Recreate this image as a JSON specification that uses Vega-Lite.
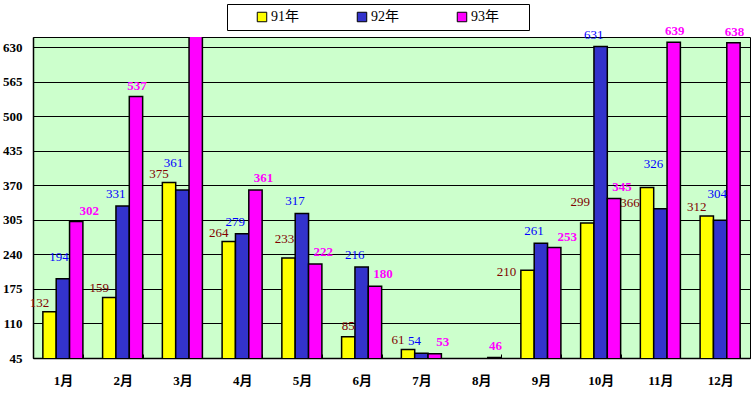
{
  "$schema": "https://vega.github.io/schema/vega-lite/v6.json",
  "width": 717,
  "height": 321,
  "autosize": {"type": "none"},
  "padding": {"left": 33, "top": 37, "right": 3, "bottom": 39},
  "background": "white",
  "config": {
    "view": {"fill": "#CCFFCC", "stroke": "black", "strokeWidth": 1},
    "font": "Liberation Serif, Noto Sans CJK SC",
    "text": {"font": "Liberation Serif", "fontSize": 13}
  },
  "data": {
    "values": [
      {"month": "1月", "series": "91年", "value": 132},
      {"month": "1月", "series": "92年", "value": 194},
      {"month": "1月", "series": "93年", "value": 302},
      {"month": "2月", "series": "91年", "value": 159},
      {"month": "2月", "series": "92年", "value": 331},
      {"month": "2月", "series": "93年", "value": 537},
      {"month": "3月", "series": "91年", "value": 375},
      {"month": "3月", "series": "92年", "value": 361},
      {"month": "3月", "series": "93年", "value": 700},
      {"month": "4月", "series": "91年", "value": 264},
      {"month": "4月", "series": "92年", "value": 279},
      {"month": "4月", "series": "93年", "value": 361},
      {"month": "5月", "series": "91年", "value": 233},
      {"month": "5月", "series": "92年", "value": 317},
      {"month": "5月", "series": "93年", "value": 222},
      {"month": "6月", "series": "91年", "value": 85},
      {"month": "6月", "series": "92年", "value": 216},
      {"month": "6月", "series": "93年", "value": 180},
      {"month": "7月", "series": "91年", "value": 61},
      {"month": "7月", "series": "92年", "value": 54},
      {"month": "7月", "series": "93年", "value": 53},
      {"month": "8月", "series": "93年", "value": 46},
      {"month": "9月", "series": "91年", "value": 210},
      {"month": "9月", "series": "92年", "value": 261},
      {"month": "9月", "series": "93年", "value": 253},
      {"month": "10月", "series": "91年", "value": 299},
      {"month": "10月", "series": "92年", "value": 631},
      {"month": "10月", "series": "93年", "value": 345},
      {"month": "11月", "series": "91年", "value": 366},
      {"month": "11月", "series": "92年", "value": 326},
      {"month": "11月", "series": "93年", "value": 639},
      {"month": "12月", "series": "91年", "value": 312},
      {"month": "12月", "series": "92年", "value": 304},
      {"month": "12月", "series": "93年", "value": 638}
    ]
  },
  "encoding": {
    "x": {
      "field": "month",
      "type": "nominal",
      "sort": ["1月","2月","3月","4月","5月","6月","7月","8月","9月","10月","11月","12月"],
      "scale": {"domain": ["1月","2月","3月","4月","5月","6月","7月","8月","9月","10月","11月","12月"], "paddingInner": 0.33, "paddingOuter": 0.165},
      "axis": {
        "title": null,
        "labelAngle": 0,
        "labelFont": "Liberation Serif, Noto Sans CJK SC",
        "labelFontWeight": "bold",
        "labelFontSize": 13,
        "labelColor": "black",
        "labelPadding": 20,
        "ticks": true,
        "tickBand": "extent",
        "tickSize": -4,
        "tickColor": "black",
        "domainColor": "black",
        "domainWidth": 1.5
      }
    },
    "xOffset": {"field": "series", "type": "nominal", "sort": ["91年","92年","93年"], "scale": {"domain": ["91年","92年","93年"]}},
    "y": {
      "field": "value",
      "type": "quantitative",
      "scale": {"domain": [45, 649], "zero": false, "nice": false},
      "axis": {
        "title": null,
        "values": [45,110,175,240,305,370,435,500,565,630],
        "ticks": false,
        "labelPadding": 11,
        "labelFont": "Liberation Serif",
        "labelFontWeight": "bold",
        "labelFontSize": 13,
        "labelColor": "black",
        "grid": true,
        "gridColor": "black",
        "gridOpacity": 1,
        "gridWidth": 1,
        "domainColor": "black",
        "domainWidth": 1.5
      }
    }
  },
  "layer": [
    {
      "mark": {"type": "bar", "stroke": "black", "strokeWidth": 1.5, "clip": true},
      "encoding": {
        "color": {
          "field": "series",
          "type": "nominal",
          "scale": {"domain": ["91年","92年","93年"], "range": ["#FFFF00","#3333CC","#FF00FF"]},
          "legend": {
            "orient": "none",
            "legendX": 194,
            "legendY": -33,
            "direction": "horizontal",
            "title": " ",
            "titleOrient": "right",
            "titlePadding": 24,
            "symbolType": "square",
            "symbolSize": 90,
            "symbolStrokeColor": "black",
            "symbolStrokeWidth": 1,
            "symbolOpacity": 1,
            "strokeColor": "black",
            "fillColor": "white",
            "padding": 6,
            "labelFont": "Liberation Serif, Noto Sans CJK SC",
            "labelFontSize": 14,
            "labelColor": "black",
            "labelOffset": 2,
            "symbolOffset": 22,
            "columnPadding": 34
          }
        }
      }
    },
    {
      "transform": [{"filter": "datum.series == '91年' && indexof(['5月','6月','9月','10月','11月'], datum.month) < 0"}],
      "mark": {"type": "text", "dx": -10, "dy": -9, "color": "#800000"},
      "encoding": {"text": {"field": "value", "type": "quantitative"}}
    },
    {
      "transform": [{"filter": "datum.series == '91年' && datum.month == '5月'"}],
      "mark": {"type": "text", "dx": -4, "dy": -19, "color": "#800000"},
      "encoding": {"text": {"field": "value", "type": "quantitative"}}
    },
    {
      "transform": [{"filter": "datum.series == '91年' && datum.month == '6月'"}],
      "mark": {"type": "text", "dx": 0, "dy": -11, "color": "#800000"},
      "encoding": {"text": {"field": "value", "type": "quantitative"}}
    },
    {
      "transform": [{"filter": "datum.series == '91年' && datum.month == '9月'"}],
      "mark": {"type": "text", "dx": -21, "dy": 2, "color": "#800000"},
      "encoding": {"text": {"field": "value", "type": "quantitative"}}
    },
    {
      "transform": [{"filter": "datum.series == '91年' && datum.month == '10月'"}],
      "mark": {"type": "text", "dx": -7, "dy": -21, "color": "#800000"},
      "encoding": {"text": {"field": "value", "type": "quantitative"}}
    },
    {
      "transform": [{"filter": "datum.series == '91年' && datum.month == '11月'"}],
      "mark": {"type": "text", "dx": -17, "dy": 16, "color": "#800000"},
      "encoding": {"text": {"field": "value", "type": "quantitative"}}
    },
    {
      "transform": [{"filter": "datum.series == '92年' && indexof(['1月','3月','11月','12月'], datum.month) < 0"}],
      "mark": {"type": "text", "dx": -7, "dy": -12, "color": "#0000FF"},
      "encoding": {"text": {"field": "value", "type": "quantitative"}}
    },
    {
      "transform": [{"filter": "datum.series == '92年' && datum.month == '1月'"}],
      "mark": {"type": "text", "dx": -4, "dy": -22, "color": "#0000FF"},
      "encoding": {"text": {"field": "value", "type": "quantitative"}}
    },
    {
      "transform": [{"filter": "datum.series == '92年' && datum.month == '3月'"}],
      "mark": {"type": "text", "dx": -9, "dy": -27, "color": "#0000FF"},
      "encoding": {"text": {"field": "value", "type": "quantitative"}}
    },
    {
      "transform": [{"filter": "datum.series == '92年' && datum.month == '11月'"}],
      "mark": {"type": "text", "dx": -7, "dy": -45, "color": "#0000FF"},
      "encoding": {"text": {"field": "value", "type": "quantitative"}}
    },
    {
      "transform": [{"filter": "datum.series == '92年' && datum.month == '12月'"}],
      "mark": {"type": "text", "dx": -3, "dy": -26, "color": "#0000FF"},
      "encoding": {"text": {"field": "value", "type": "quantitative"}}
    },
    {
      "transform": [{"filter": "datum.series == '93年' && datum.value < 649 && indexof(['1月','2月','8月','9月','11月','12月'], datum.month) < 0"}],
      "mark": {"type": "text", "dx": 8, "dy": -12, "color": "#FF00FF", "fontWeight": "bold"},
      "encoding": {"text": {"field": "value", "type": "quantitative"}}
    },
    {
      "transform": [{"filter": "datum.series == '93年' && indexof(['1月','9月'], datum.month) >= 0"}],
      "mark": {"type": "text", "dx": 13, "dy": -10, "color": "#FF00FF", "fontWeight": "bold"},
      "encoding": {"text": {"field": "value", "type": "quantitative"}}
    },
    {
      "transform": [{"filter": "datum.series == '93年' && indexof(['2月','8月','11月','12月'], datum.month) >= 0"}],
      "mark": {"type": "text", "dx": 1, "dy": -11, "color": "#FF00FF", "fontWeight": "bold"},
      "encoding": {"text": {"field": "value", "type": "quantitative"}}
    }
  ]
}
